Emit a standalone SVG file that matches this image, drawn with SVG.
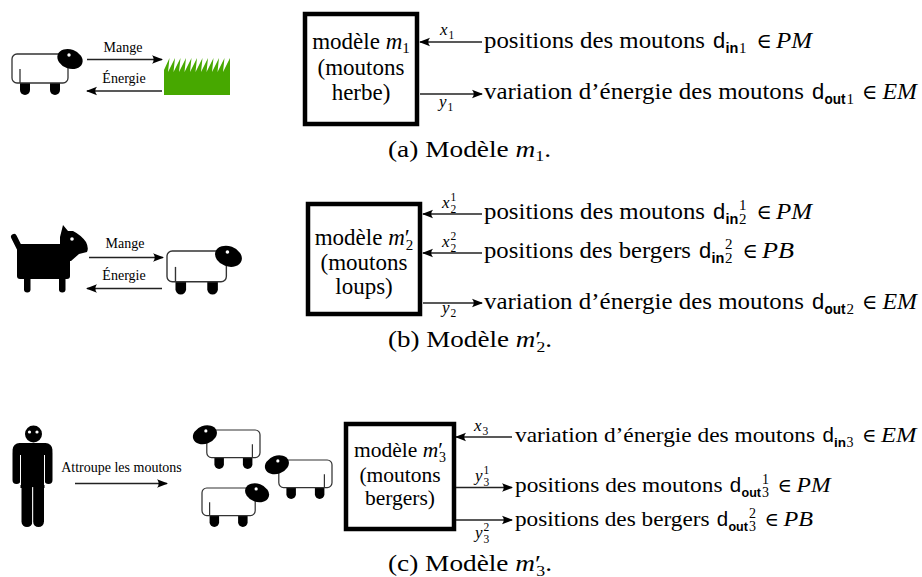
<svg xmlns="http://www.w3.org/2000/svg" width="922" height="577" viewBox="0 0 922 577">
  <style>
    .t{font-family:"Liberation Serif",serif;font-size:23px;fill:#000}
    .tc{font-family:"Liberation Serif",serif;font-size:21.5px;fill:#000}
    .el{font-family:"Liberation Serif","DejaVu Serif",serif;font-size:21px;fill:#000}
    .elc{font-family:"Liberation Serif","DejaVu Serif",serif;font-size:19.5px;fill:#000}
    .i{font-style:italic}
    .sf{font-family:"Liberation Sans",sans-serif;font-size:22px;fill:#000}
    .sfc{font-family:"Liberation Sans",sans-serif;font-size:20.5px;fill:#000}
    .sfs{font-family:"Liberation Sans",sans-serif;font-size:14.5px;font-weight:bold;fill:#000}
    .sfsc{font-family:"Liberation Sans",sans-serif;font-size:13.5px;font-weight:bold;fill:#000}
    .n{font-family:"Liberation Serif",serif;font-size:15px;fill:#000}
    .nc{font-family:"Liberation Serif",serif;font-size:14px;fill:#000}
    .lab{font-family:"Liberation Serif",serif;font-size:17px;font-style:italic;fill:#000}
    .labn{font-family:"Liberation Serif",serif;font-size:11.5px;fill:#000}
    .small{font-family:"Liberation Serif",serif;font-size:14px;fill:#000}
    .conn{stroke:#222;stroke-width:1.3;fill:none}
    .box{fill:#fff;stroke:#000;stroke-width:4.5}
    .wool{fill:#fff;stroke:#333;stroke-width:1.3}
  </style>
  <defs>
    <marker id="ah" markerUnits="userSpaceOnUse" markerWidth="14" markerHeight="10" viewBox="-12 -5 14 10" refX="0" refY="0" orient="auto">
      <path d="M1,0 L-10,-4.2 Q-6.5,0 -10,4.2 Z" fill="#000"/>
    </marker>
    <!-- sheep facing right, body top-left corner at the origin -->
    <g id="sheep">
      <rect x="8" y="20" width="10" height="21" rx="5" fill="#000"/>
      <rect x="38" y="20" width="10" height="21" rx="5" fill="#000"/>
      <rect class="wool" x="0" y="0" width="56" height="29" rx="5"/>
      <line x1="8" y1="15" x2="8" y2="29" stroke="#333" stroke-width="1.3"/>
      <ellipse cx="58" cy="5" rx="13" ry="9.5" transform="rotate(20 58 5)" fill="#000"/>
      <circle cx="57" cy="1" r="1.7" fill="#fff"/>
    </g>
  </defs>

  <!-- ===== (a) sheep and grass ===== -->
  <g id="a-sheep">
    <use href="#sheep" transform="translate(12 54)"/>
  </g>
  <g id="a-grass">
    <path fill="#47a800" d="M164,95 V70 L169.5,58 L168,72 L175,58 L173.5,72 L180.5,58 L179,72 L186,58 L184.5,72 L191.5,58 L190,72 L197,58 L195.5,72 L202.5,58 L201,72 L208,58 L206.5,72 L213.5,58 L212,72 L219,58 L217.5,72 L224.5,58 L223,72 L230,58 V95 Z"/>
  </g>
  <g id="a-model">
    <rect class="box" x="305" y="14" width="112" height="110"/>
    <text class="t" x="361" y="49" text-anchor="middle">modèle <tspan class="i">m</tspan><tspan font-size="15" dy="4">1</tspan></text>
    <text class="t" x="361" y="75" text-anchor="middle">(moutons</text>
    <text class="t" x="361" y="100" text-anchor="middle">herbe)</text>
  </g>
  <g id="a-in">
    <text class="t" x="484" y="48" textLength="221" lengthAdjust="spacingAndGlyphs">positions des moutons</text>
    <text class="sf" x="713" y="48">d</text>
    <text class="sfs" x="725.5" y="53">in</text>
    <text class="n" x="739" y="53">1</text>
    <text class="el" x="756.5" y="48">∈</text>
    <text class="t i" x="776" y="48" textLength="36" lengthAdjust="spacingAndGlyphs">PM</text>
  </g>
  <g id="a-out">
    <text class="t" x="484" y="99" textLength="320" lengthAdjust="spacingAndGlyphs">variation d’énergie des moutons</text>
    <text class="sf" x="812" y="99">d</text>
    <text class="sfs" x="824.5" y="104" textLength="21" lengthAdjust="spacingAndGlyphs">out</text>
    <text class="n" x="846.5" y="104">1</text>
    <text class="el" x="862" y="99">∈</text>
    <text class="t i" x="882.5" y="99" textLength="34.5" lengthAdjust="spacingAndGlyphs">EM</text>
  </g>
  <text class="t" x="388" y="157" textLength="163" lengthAdjust="spacingAndGlyphs">(a) Modèle <tspan class="i">m</tspan><tspan font-size="15" dy="4">1</tspan><tspan dy="-4">.</tspan></text>

  <!-- ===== (b) dog and sheep ===== -->
  <g id="b-dog" fill="#000">
    <line x1="14" y1="237" x2="20" y2="249" stroke="#000" stroke-width="6" stroke-linecap="round"/>
    <rect x="24" y="272" width="6.5" height="20.5" rx="3.2"/>
    <rect x="59" y="272" width="6.5" height="20.5" rx="3.2"/>
    <rect x="17" y="244" width="53" height="35" rx="3"/>
    <path d="M60,249 L60,237 L63,225 L68,231 L73,231 Q81,235 86,242 Q89,248 87,252 L79,254 L71,261 L66,261 Z"/>
    <circle cx="72" cy="239" r="1.8" fill="#fff"/>
  </g>
  <g id="b-sheep">
    <use href="#sheep" transform="translate(167 251) scale(1.06)"/>
  </g>
  <g id="b-model">
    <rect class="box" x="308" y="204" width="112" height="110"/>
    <text class="t" x="364" y="245" text-anchor="middle">modèle <tspan class="i">m</tspan><tspan>′</tspan><tspan font-size="15" dx="-4" dy="5">2</tspan></text>
    <text class="t" x="364" y="270" text-anchor="middle">(moutons</text>
    <text class="t" x="364" y="294" text-anchor="middle">loups)</text>
  </g>
  <g id="b-in1">
    <text class="t" x="484" y="219" textLength="221" lengthAdjust="spacingAndGlyphs">positions des moutons</text>
    <text class="sf" x="713" y="219">d</text>
    <text class="sfs" x="725.5" y="224">in</text>
    <text class="n" x="739" y="224">2</text>
    <text class="n" x="739" y="210">1</text>
    <text class="el" x="756.5" y="219">∈</text>
    <text class="t i" x="776" y="219" textLength="36" lengthAdjust="spacingAndGlyphs">PM</text>
  </g>
  <g id="b-in2">
    <text class="t" x="484" y="258" textLength="207" lengthAdjust="spacingAndGlyphs">positions des bergers</text>
    <text class="sf" x="699" y="258">d</text>
    <text class="sfs" x="711.5" y="263">in</text>
    <text class="n" x="725" y="263">2</text>
    <text class="n" x="725" y="249">2</text>
    <text class="el" x="742.5" y="258">∈</text>
    <text class="t i" x="762" y="258" textLength="32" lengthAdjust="spacingAndGlyphs">PB</text>
  </g>
  <g id="b-out">
    <text class="t" x="484" y="309" textLength="320" lengthAdjust="spacingAndGlyphs">variation d’énergie des moutons</text>
    <text class="sf" x="812" y="309">d</text>
    <text class="sfs" x="824.5" y="314" textLength="21" lengthAdjust="spacingAndGlyphs">out</text>
    <text class="n" x="846.5" y="314">2</text>
    <text class="el" x="862" y="309">∈</text>
    <text class="t i" x="882.5" y="309" textLength="34.5" lengthAdjust="spacingAndGlyphs">EM</text>
  </g>
  <text class="t" x="388" y="347" textLength="164" lengthAdjust="spacingAndGlyphs">(b) Modèle <tspan class="i">m</tspan><tspan>′</tspan><tspan font-size="15" dx="-4" dy="5">2</tspan><tspan dy="-5">.</tspan></text>

  <!-- ===== (c) shepherd and flock ===== -->
  <g id="c-shepherd" fill="#000">
    <circle cx="33.5" cy="434" r="8.5"/>
    <circle cx="29.5" cy="432" r="1.6" fill="#fff"/>
    <circle cx="37" cy="432" r="1.6" fill="#fff"/>
    <rect x="12.5" y="443" width="40" height="14" rx="7"/>
    <rect x="12.5" y="449" width="8" height="35" rx="4"/>
    <rect x="44.5" y="449" width="8" height="35" rx="4"/>
    <rect x="20.5" y="449" width="24" height="39"/>
    <rect x="21.5" y="476" width="11" height="51" rx="5.5"/>
    <rect x="33" y="476" width="11" height="51" rx="5.5"/>
    <line x1="20.5" y1="455" x2="20.5" y2="485" stroke="#fff" stroke-width="1"/>
    <line x1="44.5" y1="455" x2="44.5" y2="485" stroke="#fff" stroke-width="1"/>
    <line x1="32.7" y1="487" x2="32.7" y2="528" stroke="#fff" stroke-width="1"/>
  </g>
  <g id="c-sheep1"><use href="#sheep" transform="translate(260 430) scale(-0.95 0.95)"/></g>
  <g id="c-sheep2"><use href="#sheep" transform="translate(332 460) scale(-0.95 0.95)"/></g>
  <g id="c-sheep3"><use href="#sheep" transform="translate(202 488) scale(0.95)"/></g>
  <g id="c-model">
    <rect class="box" x="346" y="424" width="108" height="105"/>
    <text class="tc" x="400" y="457" text-anchor="middle">modèle <tspan class="i">m</tspan><tspan>′</tspan><tspan font-size="14" dx="-4" dy="5">3</tspan></text>
    <text class="tc" x="400" y="482" text-anchor="middle">(moutons</text>
    <text class="tc" x="400" y="505" text-anchor="middle">bergers)</text>
  </g>
  <g id="c-in">
    <text class="tc" x="515" y="442" textLength="300" lengthAdjust="spacingAndGlyphs">variation d’énergie des moutons</text>
    <text class="sfc" x="822.5" y="442">d</text>
    <text class="sfsc" x="834" y="447">in</text>
    <text class="nc" x="846.5" y="447">3</text>
    <text class="elc" x="862" y="442">∈</text>
    <text class="tc i" x="881" y="442" textLength="35.5" lengthAdjust="spacingAndGlyphs">EM</text>
  </g>
  <g id="c-out1">
    <text class="tc" x="515" y="492" textLength="207.5" lengthAdjust="spacingAndGlyphs">positions des moutons</text>
    <text class="sfc" x="729.8" y="492">d</text>
    <text class="sfsc" x="741.5" y="497" textLength="19.5" lengthAdjust="spacingAndGlyphs">out</text>
    <text class="nc" x="762" y="497">3</text>
    <text class="nc" x="762" y="484">1</text>
    <text class="elc" x="777.5" y="492">∈</text>
    <text class="tc i" x="796.5" y="492" textLength="34" lengthAdjust="spacingAndGlyphs">PM</text>
  </g>
  <g id="c-out2">
    <text class="tc" x="515" y="526" textLength="194.5" lengthAdjust="spacingAndGlyphs">positions des bergers</text>
    <text class="sfc" x="716.7" y="526">d</text>
    <text class="sfsc" x="728.4" y="531" textLength="19.5" lengthAdjust="spacingAndGlyphs">out</text>
    <text class="nc" x="749" y="531">3</text>
    <text class="nc" x="749" y="518">2</text>
    <text class="elc" x="764.5" y="526">∈</text>
    <text class="tc i" x="783.5" y="526" textLength="29.5" lengthAdjust="spacingAndGlyphs">PB</text>
  </g>
  <text class="t" x="388" y="571" textLength="164" lengthAdjust="spacingAndGlyphs">(c) Modèle <tspan class="i">m</tspan><tspan>′</tspan><tspan font-size="15" dx="-4" dy="5">3</tspan><tspan dy="-5">.</tspan></text>

  <!-- ===== connectors ===== -->
  <g id="connectors">
    <path class="conn" marker-end="url(#ah)" d="M87,59.5 H162"/>
    <path class="conn" marker-end="url(#ah)" d="M162,91 H87"/>
    <path class="conn" marker-end="url(#ah)" d="M482,42 H420"/>
    <path class="conn" marker-end="url(#ah)" d="M420,94 H482"/>

    <path class="conn" marker-end="url(#ah)" d="M89,257.5 H163"/>
    <path class="conn" marker-end="url(#ah)" d="M162,288.5 H87"/>
    <path class="conn" marker-end="url(#ah)" d="M482,214 H423"/>
    <path class="conn" marker-end="url(#ah)" d="M482,253 H423"/>
    <path class="conn" marker-end="url(#ah)" d="M423,303 H482"/>

    <path class="conn" marker-end="url(#ah)" d="M75,483.5 H167"/>
    <path class="conn" marker-end="url(#ah)" d="M512,437 H456"/>
    <path class="conn" marker-end="url(#ah)" d="M456,487.5 H512"/>
    <path class="conn" marker-end="url(#ah)" d="M456,520 H512"/>
  </g>

  <!-- ===== connector labels ===== -->
  <g id="labels">
    <text class="small" x="123" y="51.5" text-anchor="middle">Mange</text>
    <text class="small" x="124" y="83" text-anchor="middle">Énergie</text>
    <text class="lab" x="440" y="35">x</text><text class="labn" x="448.5" y="39">1</text>
    <text class="lab" x="439" y="107">y</text><text class="labn" x="447.5" y="111">1</text>

    <text class="small" x="125" y="248" text-anchor="middle">Mange</text>
    <text class="small" x="124" y="280" text-anchor="middle">Énergie</text>
    <text class="lab" x="442" y="208">x</text><text class="labn" x="450.5" y="212.5">2</text><text class="labn" x="450.5" y="201">1</text>
    <text class="lab" x="442" y="247">x</text><text class="labn" x="450.5" y="251.5">2</text><text class="labn" x="450.5" y="240">2</text>
    <text class="lab" x="442" y="313">y</text><text class="labn" x="450.5" y="317">2</text>

    <text class="small" x="121.5" y="472" text-anchor="middle">Attroupe les moutons</text>
    <text class="lab" x="474" y="431">x</text><text class="labn" x="482.5" y="435">3</text>
    <text class="lab" x="475" y="481">y</text><text class="labn" x="483.5" y="485.5">3</text><text class="labn" x="483.5" y="474">1</text>
    <text class="lab" x="475" y="538">y</text><text class="labn" x="483.5" y="542.5">3</text><text class="labn" x="483.5" y="531">2</text>
  </g>
</svg>
